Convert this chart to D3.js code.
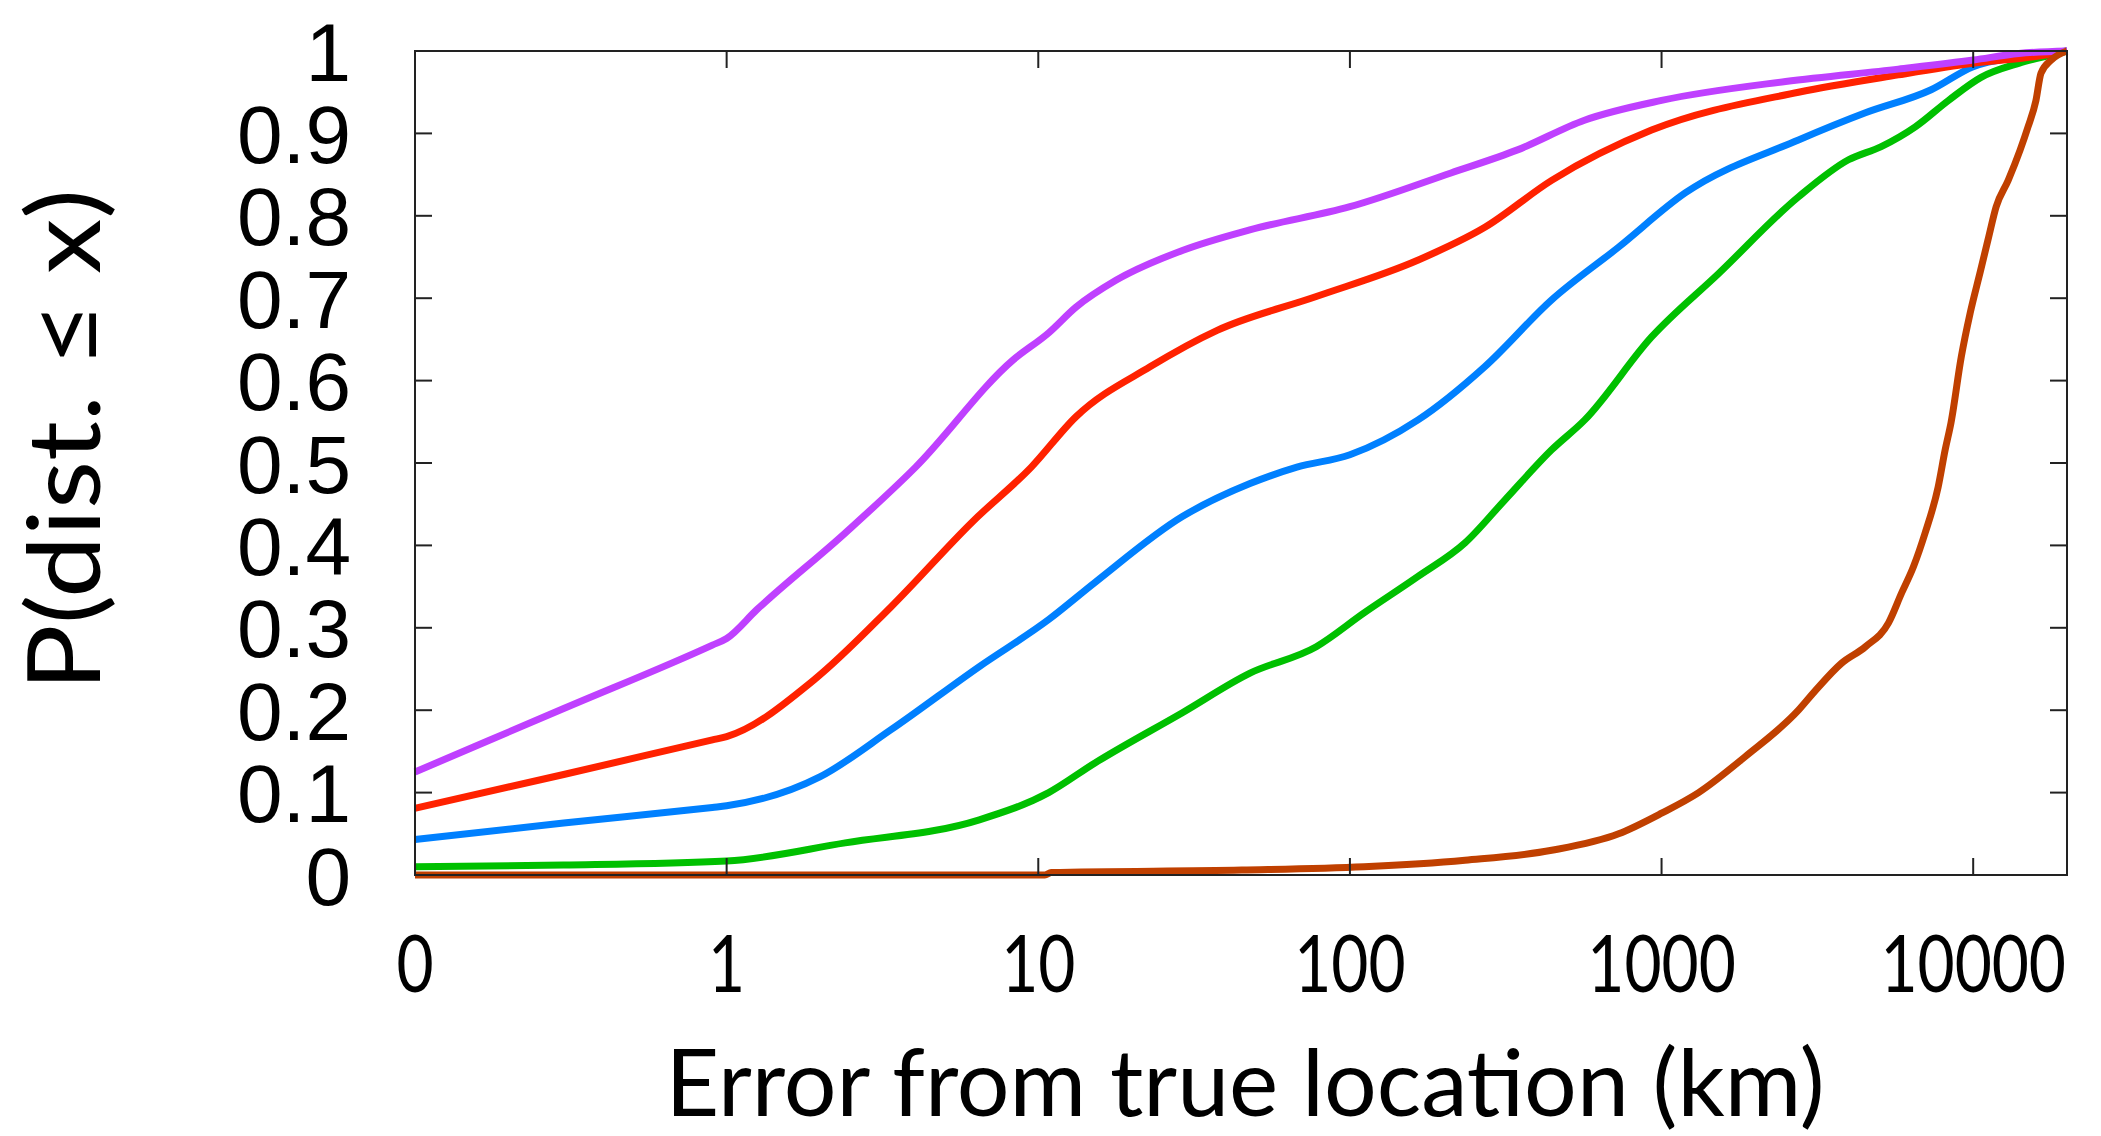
<!DOCTYPE html>
<html>
<head>
<meta charset="utf-8">
<script src="https://cdn.jsdelivr.net/npm/d3@7"></script>
<style>
  body { margin: 0; background: #fff; }
  svg { display: block; }
</style>
</head>
<body>
<div id="chart"></div>
<script>
// x values in km (0 is drawn at the 0.1 position of the log axis)
const purpleX = [0, 0.3, 0.9, 1, 1.25, 2.4, 4.04, 8.3, 10.8, 13.2, 17.8, 29, 47.7, 100, 211, 345, 566, 1000, 2500, 5750, 10000, 14000, 20000];
const purpleY = [0.125, 0.202, 0.279, 0.287, 0.322, 0.415, 0.495, 0.625, 0.658, 0.689, 0.722, 0.758, 0.783, 0.811, 0.852, 0.88, 0.916, 0.94, 0.963, 0.978, 0.989, 0.997, 1];

const redX = [0, 0.3, 0.9, 1, 1.91, 3.36, 6.2, 9.5, 13.2, 22.9, 37.5, 78, 165, 271, 444, 929, 2750, 5750, 10000, 17000, 20000];
const redY = [0.081, 0.122, 0.164, 0.168, 0.237, 0.325, 0.43, 0.495, 0.556, 0.617, 0.661, 0.702, 0.746, 0.786, 0.843, 0.904, 0.95, 0.971, 0.985, 0.995, 1];

const blueX = [0, 0.3, 0.9, 1, 1.99, 3.36, 6.47, 10.8, 15.2, 29, 47.8, 67.6, 100, 165, 271, 444, 728, 1194, 2750, 4510, 7330, 10000, 14000, 20000];
const blueY = [0.043, 0.063, 0.082, 0.084, 0.119, 0.176, 0.253, 0.31, 0.355, 0.435, 0.475, 0.495, 0.51, 0.552, 0.617, 0.698, 0.762, 0.828, 0.892, 0.925, 0.953, 0.981, 0.993, 1];

const greenX = [0, 0.3, 1, 2.4, 6.47, 10.8, 15.2, 29, 47.8, 78, 111, 165, 234, 314, 444, 566, 929, 1525, 2750, 3980, 5070, 6520, 8330, 10600, 14000, 17700, 20000];
const greenY = [0.01, 0.012, 0.017, 0.039, 0.067, 0.1, 0.136, 0.197, 0.245, 0.277, 0.318, 0.362, 0.403, 0.455, 0.516, 0.552, 0.653, 0.73, 0.823, 0.868, 0.884, 0.908, 0.94, 0.968, 0.985, 0.995, 1];

const brownX = [0, 10.5, 11, 45, 111, 234, 444, 728, 1000, 1315, 1860, 2750, 3120, 3780, 4510, 5350, 5890, 6430, 7010, 7720, 8130, 8490, 9160, 9780, 10520, 11160, 11850, 12950, 14150, 15000, 15900, 16500, 17800, 20000];
const brownY = [0, 0, 0.003, 0.006, 0.01, 0.018, 0.03, 0.05, 0.075, 0.1, 0.144, 0.2, 0.224, 0.257, 0.277, 0.306, 0.342, 0.374, 0.415, 0.471, 0.516, 0.549, 0.629, 0.682, 0.731, 0.771, 0.811, 0.843, 0.88, 0.908, 0.94, 0.973, 0.989, 1];

const xTicks = [0, 1, 10, 100, 1000, 10000];
const yTicks = [0, 0.1, 0.2, 0.3, 0.4, 0.5, 0.6, 0.7, 0.8, 0.9, 1];

const W = 2101, H = 1136;
const margin = { top: 51, right: 34, bottom: 261, left: 415 };
const width = W - margin.left - margin.right;
const height = H - margin.top - margin.bottom;

const svg = d3.select('#chart').append('svg')
  .attr('width', W)
  .attr('height', H);

const g = svg.append('g')
  .attr('transform', `translate(${margin.left},${margin.top})`);

// log axis, "0" sits one decade below 1
const x = d3.scaleLog().domain([0.1, 20000]).range([0, width]);
const xp = v => x(Math.max(v, 0.1));
const y = d3.scaleLinear().domain([0, 1]).range([height, 0]);

// curves
const series = [
  { xs: greenX, ys: greenY, color: '#00c000' },
  { xs: blueX, ys: blueY, color: '#0080ff' },
  { xs: redX, ys: redY, color: '#ff2200' },
  { xs: purpleX, ys: purpleY, color: '#bf40ff' },
  { xs: brownX, ys: brownY, color: '#c04000' }
];

const line = d3.line()
  .x(d => xp(d[0]))
  .y(d => y(d[1]))
  .curve(d3.curveMonotoneX);

series.forEach(s => {
  g.append('path')
    .datum(s.xs.map((v, i) => [v, s.ys[i]]))
    .attr('d', line)
    .attr('fill', 'none')
    .attr('stroke', s.color)
    .attr('stroke-width', 7)
    .attr('stroke-linejoin', 'round');
});

// frame with inward ticks, drawn over the curves
g.append('rect')
  .attr('width', width)
  .attr('height', height)
  .attr('fill', 'none')
  .attr('stroke', '#222')
  .attr('stroke-width', 2);

const tickLen = 17;
xTicks.slice(1).forEach(t => {
  g.append('line').attr('x1', xp(t)).attr('x2', xp(t)).attr('y1', height).attr('y2', height - tickLen)
    .attr('stroke', '#222').attr('stroke-width', 2);
  g.append('line').attr('x1', xp(t)).attr('x2', xp(t)).attr('y1', 0).attr('y2', tickLen)
    .attr('stroke', '#222').attr('stroke-width', 2);
});
yTicks.slice(1, -1).forEach(t => {
  g.append('line').attr('x1', 0).attr('x2', tickLen).attr('y1', y(t)).attr('y2', y(t))
    .attr('stroke', '#222').attr('stroke-width', 2);
  g.append('line').attr('x1', width).attr('x2', width - tickLen).attr('y1', y(t)).attr('y2', y(t))
    .attr('stroke', '#222').attr('stroke-width', 2);
});

// y tick labels
g.selectAll('.ylab')
  .data(yTicks)
  .enter()
  .append('text')
  .attr('class', 'ylab')
  .attr('x', -64)
  .attr('y', d => y(d))
  .attr('dy', '0.36em')
  .attr('text-anchor', 'end')
  .style('font-family', '"Liberation Sans", Arial, sans-serif')
  .style('font-size', '82px')
  .text(d => d === 0 || d === 1 ? String(d) : d.toFixed(1));

// x tick labels, squeezed a little to look like the narrow original face
g.selectAll('.xlab')
  .data(xTicks)
  .enter()
  .append('text')
  .attr('class', 'xlab')
  .attr('transform', d => `translate(${xp(d)},941) scale(0.8,1)`)
  .attr('text-anchor', 'middle')
  .style('font-family', 'Lato, "Open Sans", sans-serif')
  .style('font-size', '80px')
  .text(d => d);

// axis titles
svg.append('text')
  .attr('x', 1245)
  .attr('y', 1116)
  .attr('text-anchor', 'middle')
  .attr('textLength', 1159)
  .attr('lengthAdjust', 'spacingAndGlyphs')
  .style('font-family', 'Lato, "Open Sans", sans-serif')
  .style('font-size', '94px')
  .text('Error from true location (km)');

svg.append('text')
  .attr('transform', 'translate(100,440) rotate(-90)')
  .attr('text-anchor', 'middle')
  .attr('textLength', 502)
  .attr('lengthAdjust', 'spacingAndGlyphs')
  .style('font-family', 'Lato, "Open Sans", sans-serif')
  .style('font-size', '100px')
  .text('P(dist. ≤ x)');
</script>
</body>
</html>
